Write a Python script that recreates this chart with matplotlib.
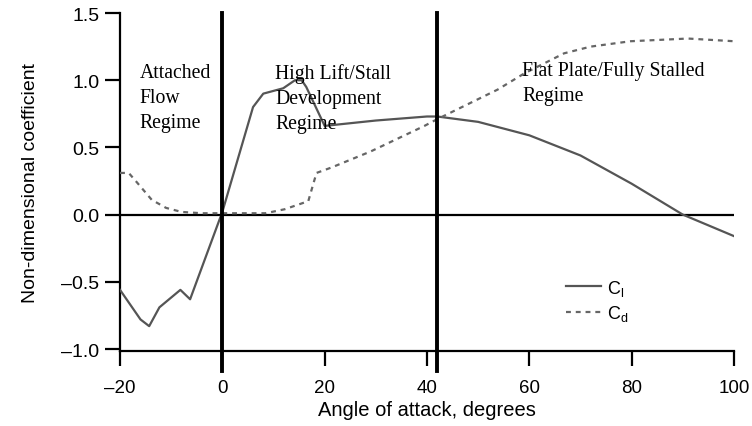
import matplotlib
matplotlib.use("Agg")
import matplotlib.pyplot as plt

# Lift coefficient (solid)
cl_alpha = [-20, -16, -14.3, -12.3, -8.2, -6.3, 0, 6, 8, 11.9, 14.2, 15.5, 16.4, 20, 30, 40, 42, 50, 60, 70, 80, 90, 100]
cl_vals = [-0.56, -0.78, -0.83, -0.69, -0.56, -0.63, 0.02, 0.80, 0.90, 0.94, 1.00, 1.00, 0.95, 0.66, 0.70, 0.73, 0.73, 0.69, 0.59, 0.44, 0.23, 0.0, -0.16]

# Drag coefficient (dashed)
cd_alpha = [-20, -18.3, -16.7, -13.8, -11, -8, -4, 0, 4, 8.4, 12.2, 16.8, 18.4, 21.3, 29, 39.5, 42, 53.8, 59, 66.8, 72, 79.8, 91, 100]
cd_vals = [0.31, 0.31, 0.24, 0.11, 0.05, 0.02, 0.01, 0.01, 0.01, 0.01, 0.04, 0.10, 0.31, 0.35, 0.47, 0.66, 0.71, 0.93, 1.05, 1.20, 1.25, 1.29, 1.31, 1.29]

regime_bounds = [0, 42]
xticks = [-20, 0, 20, 40, 60, 80, 100]
yticks = [-1.0, -0.5, 0.0, 0.5, 1.0, 1.5]

plt.rcParams['mathtext.fontset'] = 'custom'
plt.rcParams['mathtext.rm'] = 'Liberation Sans'
plt.rcParams['mathtext.it'] = 'Liberation Sans:italic'

fig = plt.figure(figsize=(7.52, 4.27), dpi=100)
ax = fig.add_axes([0.1596, 0.1756, 0.8164, 0.7916])

ax.set_xlim(-20, 100)
ax.set_ylim(-1.015, 1.5)

line_color = '#555555'
ax.plot(cl_alpha, cl_vals, color=line_color, lw=1.6, label=r'$\mathregular{C_l}$', zorder=3)
ax.plot(cd_alpha, cd_vals, color='#666666', lw=1.6, ls=(0, (2.2, 2.2)), label=r'$\mathregular{C_d}$', zorder=3)

ax.axhline(0, color='black', lw=1.6, zorder=2)
for xb in regime_bounds:
    ax.plot([xb, xb], [-1.165, 1.5], color='black', lw=2.8, clip_on=False, zorder=4)

for s in ['top', 'right']:
    ax.spines[s].set_visible(False)
for s in ['left', 'bottom']:
    ax.spines[s].set_linewidth(1.6)

ax.set_xticks(xticks)
ax.set_yticks(yticks)
ax.set_xticklabels([f'{v:g}'.replace('-', '\u2013') for v in xticks])
ax.set_yticklabels([f'{v:.1f}'.replace('-', '\u2013') for v in yticks])
ax.tick_params(direction='out', length=11, width=1.6)
ax.tick_params(axis='x', labelsize=13.5, pad=9)
ax.tick_params(axis='y', labelsize=14, pad=4)
for lab in ax.get_xticklabels() + ax.get_yticklabels():
    lab.set_fontfamily('Liberation Sans')

ax.set_xlabel('Angle of attack, degrees', fontsize=14.5, family='Liberation Sans', labelpad=3)
ax.set_ylabel('Non-dimensional coefficient', fontsize=14, family='Liberation Sans', labelpad=16)

serif = 'Liberation Serif'
kw = dict(family=serif, fontsize=14.2, va='top', ha='left', linespacing=1.42)
ax.text(-16.2, 1.125, 'Attached\nFlow\nRegime', **kw)
ax.text(10.3, 1.125, 'High Lift/Stall\nDevelopment\nRegime', **kw)
ax.text(58.6, 1.145, 'Flat Plate/Fully Stalled\nRegime', **kw)

leg = ax.legend(loc='center left', bbox_to_anchor=(0.70, 0.15), frameon=False,
                handlelength=1.95, handletextpad=0.3, labelspacing=0.3,
                prop={'family': 'Liberation Sans', 'size': 13})

fig.savefig('out.png', dpi=100)
